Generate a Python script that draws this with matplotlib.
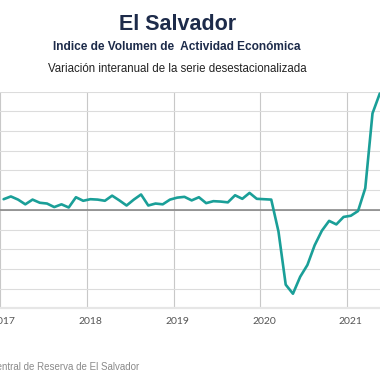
import matplotlib
matplotlib.use("Agg")
import matplotlib.pyplot as plt
import numpy as np

# Year-on-year change of the seasonally adjusted IVAE, monthly (%)
years = [2017, 2018, 2019, 2020, 2021]
values_2017 = [2.7, 3.4, 2.6, 1.4, 2.6, 1.8, 1.6, 0.7, 1.4, 0.6, 3.2, 2.3]
values_2018 = [2.7, 2.6, 2.3, 3.6, 2.4, 1.1, 2.6, 3.9, 1.1, 1.6, 1.4, 2.6]
values_2019 = [3.1, 3.3, 2.4, 3.2, 1.7, 2.2, 2.1, 1.9, 3.7, 2.8, 4.3, 2.8]
values_2020 = [2.7, 2.6, -5.5, -19.0, -21.3, -17.0, -14.0, -9.0, -5.3, -2.8,
               -3.7, -1.8]
values_2021 = [-1.5, -0.3, 5.5, 24.5, 29.5, 30.0]

values = values_2017 + values_2018 + values_2019 + values_2020 + values_2021
# points sit in the middle of each month
dates = [2017 + (i + 0.5) / 12 for i in range(len(values))]

teal = "#1a9f98"
navy = "#1d2b4a"

fig = plt.figure(figsize=(3.8, 3.8), dpi=100)
ax = fig.add_axes([0.0, 0.1887, 1.0, 0.570])

ax.plot(dates, values, color=teal, lw=1.9, solid_joinstyle="round",
        solid_capstyle="round", zorder=3)
ax.axhline(0, color="#808080", lw=1.1, zorder=2)

ax.set_xlim(2017.0662, 2021.378)
ax.set_ylim(-25, 30)

ax.set_yticks(np.arange(-25, 31, 5))
ax.set_xticks(years)
ax.set_xticks([y + 1 / 24 for y in years], minor=True)
ax.set_xticklabels([])
ax.set_xticklabels([str(y) for y in years], minor=True)
ax.tick_params(axis="x", which="both", length=0)
ax.tick_params(axis="x", which="minor", pad=6, labelsize=7.5,
               labelcolor="#555555")
for lab in ax.get_xticklabels(minor=True):
    lab.set_family("Lato")
ax.tick_params(axis="y", length=0, labelleft=False)

ax.grid(axis="y", color="#dcdcdc", lw=0.8, zorder=0)
ax.grid(axis="x", which="major", color="#c8c8c8", lw=0.8, zorder=0)

for side in ["top", "left", "right"]:
    ax.spines[side].set_visible(False)
ax.spines["bottom"].set_color("#e6e6e6")
ax.spines["bottom"].set_linewidth(1.6)

fig.text(0.466, 1 - 24 / 380, "El Salvador", ha="center", va="center",
         fontsize=15.5, fontweight="bold", color=navy,
         family="Liberation Sans")
fig.text(0.466, 1 - 47.5 / 380, "Indice de Volumen de  Actividad Económica",
         ha="center", va="center", fontsize=8.6, fontweight="bold",
         color=navy, family="Liberation Sans")
fig.text(0.466, 1 - 68.5 / 380,
         "Variación interanual de la serie desestacionalizada",
         ha="center", va="center", fontsize=8.3, color="#222222",
         family="Liberation Sans")
fig.text(139 / 380, 1 - 367 / 380,
         "Fuente: Banco Central de Reserva de El Salvador",
         ha="right", va="center", fontsize=7, color="#8a8a8a",
         family="Liberation Sans")

fig.savefig("out.png", dpi=100)
